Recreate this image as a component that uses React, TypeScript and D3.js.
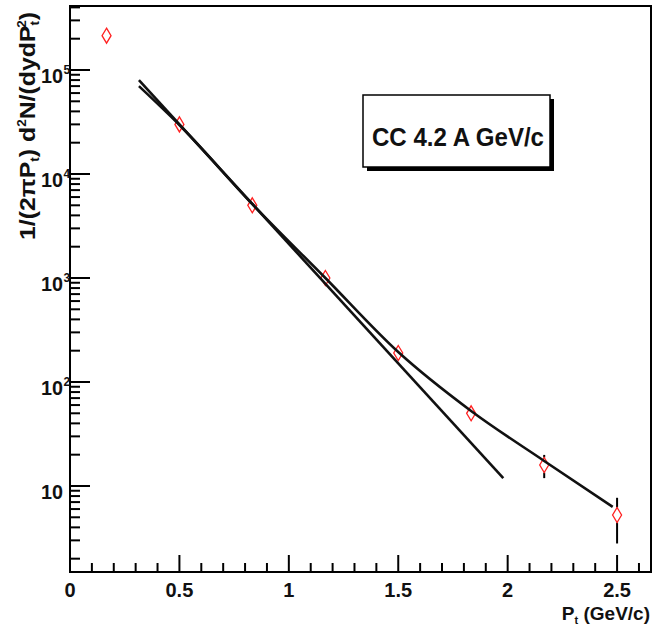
import React from "react";
import * as d3 from "d3";

// ---- data ----
const ptBins = [0.167, 0.5, 0.833, 1.167, 1.5, 1.833, 2.167, 2.5];
const yields = [2.14e5, 3.0e4, 5.0e3, 1.0e3, 190, 50, 15.9, 5.26];
const yieldLo = [2.05e5, 2.85e4, 4.8e3, 960, 181, 47.5, 11.9, 2.8];
const yieldHi = [2.23e5, 3.15e4, 5.2e3, 1040, 200, 52.5, 19.9, 7.7];

const expFitPt = [0.315, 1.98];
const expFitY = [8.0e4, 11.9];

const twoTempPt = [0.315, 0.5, 0.833, 1.167, 1.5, 1.833, 2.167, 2.48];
const twoTempY = [7.0e4, 2.96e4, 5.15e3, 1.0e3, 194, 52.6, 17.4, 6.3];

const xTickValues = [0, 0.5, 1, 1.5, 2, 2.5];
const xTickLabels = ["0", "0.5", "1", "1.5", "2", "2.5"];
const yTickExponents = [1, 2, 3, 4, 5];

const legendText = "CC 4.2 A GeV/c";

// ---- layout ----
const W = 657;
const H = 633;
const L = 70, R = 651, T = 6, B = 572;
const X_MAX = 2.655;
const Y_MIN = 1.489;
const Y_MAX = 4.125e5;
const FONT = "'Liberation Sans', Arial, Helvetica, sans-serif";

export default function App() {
  const x = d3.scaleLinear().domain([0, X_MAX]).range([L, R]);
  const y = d3.scaleLog().domain([Y_MIN, Y_MAX]).range([B, T]);

  const xMinor = d3.range(0, X_MAX, 0.1).map((v) => Math.round(v * 10) / 10);
  const yAll = y.ticks(40).filter((v) => v >= Y_MIN && v <= Y_MAX);
  const isMajorY = (v: number) => Math.abs(Math.log10(v) - Math.round(Math.log10(v))) < 1e-9;

  const line = d3
    .line<[number, number]>()
    .x((d) => x(d[0]))
    .y((d) => y(d[1]))
    .curve(d3.curveMonotoneX);

  const expPts: [number, number][] = expFitPt.map((p, i) => [p, expFitY[i]]);
  const twoPts: [number, number][] = twoTempPt.map((p, i) => [p, twoTempY[i]]);

  const mh = 7.5; // marker half height
  const mw = 4.5; // marker half width

  return (
    <svg
      width={W}
      height={H}
      style={{ position: "absolute", left: 0, top: 0, background: "#fff" }}
      fontFamily={FONT}
    >
      <rect x={0} y={0} width={W} height={H} fill="#fff" />

      {/* y ticks */}
      {yAll.map((v, i) => (
        <line
          key={"yt" + i}
          x1={L}
          x2={L + (isMajorY(v) ? 20 : 10)}
          y1={y(v)}
          y2={y(v)}
          stroke="#000"
          strokeWidth={2}
        />
      ))}
      {/* x ticks */}
      {xMinor.map((v, i) => {
        const major = Math.abs(v * 2 - Math.round(v * 2)) < 1e-9;
        return (
          <line
            key={"xt" + i}
            x1={x(v)}
            x2={x(v)}
            y1={B}
            y2={B - (major ? 17 : 9)}
            stroke="#000"
            strokeWidth={2}
          />
        );
      })}

      {/* frame */}
      <rect x={L} y={T} width={R - L} height={B - T} fill="none" stroke="#000" strokeWidth={2} />

      {/* y labels */}
      {yTickExponents.map((e) => {
        const yy = y(Math.pow(10, e));
        return (
          <g key={"yl" + e} fontWeight="bold" fill="#111">
            <text x={63} y={yy + 13} fontSize={20} textAnchor="end" textLength={22} lengthAdjust="spacingAndGlyphs">
              10
            </text>
            {e > 1 && (
              <text x={63.5} y={yy + 4} fontSize={12} textAnchor="start">
                {e}
              </text>
            )}
          </g>
        );
      })}

      {/* x labels */}
      {xTickValues.map((v, i) => (
        <text
          key={"xl" + i}
          x={x(v)}
          y={597}
          fontSize={20}
          fontWeight="bold"
          textAnchor="middle"
          fill="#111"
        >
          {xTickLabels[i]}
        </text>
      ))}

      {/* x title */}
      <text
        x={650}
        y={620}
        fontSize={19}
        fontWeight="bold"
        textAnchor="end"
        fill="#111"
      >
        P<tspan fontSize={11} dy={4}>t</tspan>
        <tspan dy={-4}> (GeV/c)</tspan>
      </text>

      {/* y title */}
      <text
        transform="translate(35,240) rotate(-90)"
        fontSize={22}
        fontWeight="bold"
        fill="#111"
        textLength={228}
        lengthAdjust="spacingAndGlyphs"
      >
        1/(2πP<tspan fontSize={12} dy={4}>t</tspan>
        <tspan dy={-4}>)  d</tspan>
        <tspan fontSize={12} dy={-9}>2</tspan>
        <tspan dy={9}>N/(dydP</tspan>
        <tspan fontSize={12} dy={4}>t</tspan>
        <tspan fontSize={12} dx={-6} dy={-13}>2</tspan>
        <tspan dy={9}>)</tspan>
      </text>

      {/* legend box */}
      <rect x={367} y={99} width={187} height={72} fill="#000" />
      <rect x={363} y={95} width={187} height={72} fill="#fff" stroke="#000" strokeWidth={1.5} />
      <text
        x={458}
        y={146}
        fontSize={25}
        fontWeight="bold"
        textAnchor="middle"
        fill="#111"
        textLength={172}
        lengthAdjust="spacingAndGlyphs"
      >
        {legendText}
      </text>

      {/* error bars outside markers */}
      {ptBins.map((p, i) => {
        const cx = x(p);
        const cy = y(yields[i]);
        const top = y(yieldHi[i]);
        const bot = y(yieldLo[i]);
        return (
          <g key={"eb" + i} stroke="#000" strokeWidth={2}>
            {top < cy - mh && <line x1={cx} x2={cx} y1={top} y2={cy - mh} />}
            {bot > cy + mh && <line x1={cx} x2={cx} y1={cy + mh} y2={bot} />}
          </g>
        );
      })}

      {/* markers */}
      {ptBins.map((p, i) => {
        const cx = x(p);
        const cy = y(yields[i]);
        return (
          <path
            key={"mk" + i}
            d={`M${cx},${cy - mh}L${cx + mw},${cy}L${cx},${cy + mh}L${cx - mw},${cy}Z`}
            fill="none"
            stroke="#ff2020"
            strokeWidth={1.3}
          />
        );
      })}

      {/* fit curves */}
      <path d={line(expPts) || ""} fill="none" stroke="#111" strokeWidth={2.6} />
      <path d={line(twoPts) || ""} fill="none" stroke="#111" strokeWidth={2.6} />
    </svg>
  );
}
